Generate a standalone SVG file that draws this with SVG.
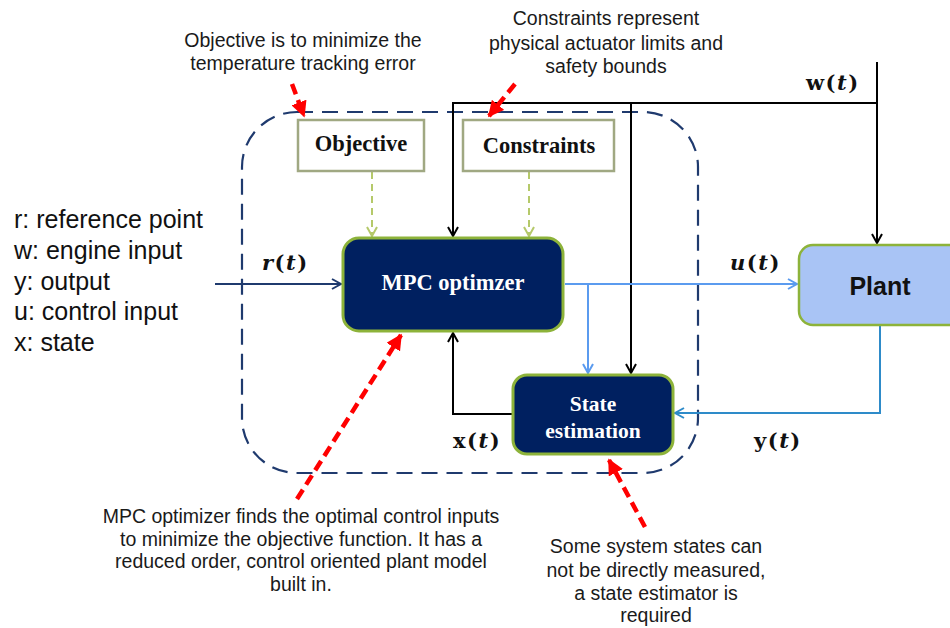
<svg xmlns="http://www.w3.org/2000/svg" width="950" height="628" viewBox="0 0 950 628">
<style>
.ann{font-family:"Liberation Sans",Arial,sans-serif;font-size:19.5px;fill:#1a1a1a;text-anchor:middle}
.leg{font-family:"Liberation Sans",Arial,sans-serif;font-size:25px;fill:#111}
.math{font-family:"DejaVu Serif","Liberation Serif",serif;font-size:21px;font-weight:bold;fill:#111;letter-spacing:1.5px}
.it{font-style:italic}
.wb{font-family:"Liberation Serif","Times New Roman",serif;font-weight:bold;fill:#fff;text-anchor:middle}
.bb{font-family:"Liberation Serif","Times New Roman",serif;font-weight:bold;fill:#111;text-anchor:middle;font-size:22.5px}
.nav{fill:#002060;stroke:#8DB33A;stroke-width:3}
.wbox{fill:#fff;stroke:#A0A882;stroke-width:2.5}
.red{stroke:#FF0000;stroke-width:4.5;stroke-dasharray:11 6;fill:none}
</style>
<defs>
<marker id="ak" viewBox="0 0 12 12" refX="10" refY="6" markerWidth="12" markerHeight="12" markerUnits="userSpaceOnUse" orient="auto"><path d="M1,1 L10,6 L1,11" fill="none" stroke="#000" stroke-width="2"/></marker>
<marker id="an" viewBox="0 0 12 12" refX="10" refY="6" markerWidth="12" markerHeight="12" markerUnits="userSpaceOnUse" orient="auto"><path d="M1,1 L10,6 L1,11" fill="none" stroke="#1F3A6E" stroke-width="2"/></marker>
<marker id="alb" viewBox="0 0 12 12" refX="10" refY="6" markerWidth="12" markerHeight="12" markerUnits="userSpaceOnUse" orient="auto"><path d="M1,1 L10,6 L1,11" fill="none" stroke="#5B9BEF" stroke-width="2"/></marker>
<marker id="adb" viewBox="0 0 12 12" refX="10" refY="6" markerWidth="12" markerHeight="12" markerUnits="userSpaceOnUse" orient="auto"><path d="M1,1 L10,6 L1,11" fill="none" stroke="#2E8BC9" stroke-width="2"/></marker>
<marker id="ag" viewBox="0 0 12 12" refX="10" refY="6" markerWidth="12" markerHeight="12" markerUnits="userSpaceOnUse" orient="auto"><path d="M1,1 L10,6 L1,11" fill="none" stroke="#B5C96A" stroke-width="2"/></marker>
<marker id="ar" viewBox="0 0 10 10" refX="9" refY="5" markerWidth="16" markerHeight="16" markerUnits="userSpaceOnUse" orient="auto"><path d="M0,0 L10,5 L0,10 Z" fill="#FF0000"/></marker>
</defs>

<g id="container">
<rect x="242" y="112" width="456" height="361" rx="55" fill="none" stroke="#1F3A6E" stroke-width="2.2" stroke-dasharray="16 9"/>
</g>

<g id="connectors" fill="none">
<path d="M877,62 V243" stroke="#000" stroke-width="2" marker-end="url(#ak)"/>
<path d="M877,103 H453 V236" stroke="#000" stroke-width="2" marker-end="url(#ak)"/>
<path d="M631,103 V373" stroke="#000" stroke-width="2" marker-end="url(#ak)"/>
<path d="M215,284 H341" stroke="#1F3A6E" stroke-width="2" marker-end="url(#an)"/>
<path d="M565,284 H797" stroke="#5B9BEF" stroke-width="2" marker-end="url(#alb)"/>
<path d="M588,284 V373" stroke="#5B9BEF" stroke-width="2" marker-end="url(#alb)"/>
<path d="M880,326 V413 H675" stroke="#2E8BC9" stroke-width="2" marker-end="url(#adb)"/>
<path d="M512,414 H453 V333" stroke="#000" stroke-width="2" marker-end="url(#ak)"/>
<path d="M372,172 V236" stroke="#B5C96A" stroke-width="2" stroke-dasharray="7 5" marker-end="url(#ag)"/>
<path d="M529,172 V236" stroke="#B5C96A" stroke-width="2" stroke-dasharray="7 5" marker-end="url(#ag)"/>
<path d="M292,84 L304,116" class="red" marker-end="url(#ar)"/>
<path d="M515,84 L489,116" class="red" marker-end="url(#ar)"/>
<path d="M297,499 L401,335" class="red" marker-end="url(#ar)"/>
<path d="M645,527 L609,460" class="red" marker-end="url(#ar)"/>
</g>

<g id="objective">
<rect x="298" y="120" width="126" height="51" class="wbox"/>
<text x="361" y="151" class="bb">Objective</text>
</g>
<g id="constraints">
<rect x="463" y="120" width="151" height="51" class="wbox"/>
<text x="539" y="153" class="bb">Constraints</text>
</g>
<g id="mpc">
<rect x="343" y="238" width="220" height="93" rx="16" class="nav"/>
<text x="453" y="290" class="wb" font-size="22.5">MPC optimzer</text>
</g>
<g id="state">
<rect x="513" y="375" width="160" height="79" rx="14" class="nav"/>
<text x="593" y="411" class="wb" font-size="21.5">State</text>
<text x="593" y="438" class="wb" font-size="21.5">estimation</text>
</g>
<g id="plant">
<rect x="799" y="245" width="180" height="80" rx="14" fill="#A9C4F5" stroke="#8DB33A" stroke-width="2.5"/>
<text x="880" y="295" font-family="'Liberation Sans',Arial,sans-serif" font-weight="bold" font-size="25" fill="#111" text-anchor="middle">Plant</text>
</g>

<g id="labels">
<text x="262" y="270" class="math"><tspan class="it">r</tspan>(<tspan class="it">t</tspan>)</text>
<text x="730" y="270" class="math"><tspan class="it">u</tspan>(<tspan class="it">t</tspan>)</text>
<text x="806" y="90" class="math">w(<tspan class="it">t</tspan>)</text>
<text x="453" y="448" class="math">x(<tspan class="it">t</tspan>)</text>
<text x="754" y="448" class="math">y(<tspan class="it">t</tspan>)</text>
</g>

<g id="legend">
<text x="14" y="228" class="leg">r: reference point</text>
<text x="14" y="259" class="leg">w: engine input</text>
<text x="14" y="290" class="leg">y: output</text>
<text x="14" y="320" class="leg">u: control input</text>
<text x="14" y="351" class="leg">x: state</text>
</g>

<g id="annotations">
<text x="303" y="47" class="ann">Objective is to minimize the</text>
<text x="303" y="70" class="ann">temperature tracking error</text>
<text x="606" y="25" class="ann">Constraints represent</text>
<text x="606" y="50" class="ann">physical actuator limits and</text>
<text x="606" y="73" class="ann">safety bounds</text>
<text x="301" y="523" class="ann">MPC optimizer finds the optimal control inputs</text>
<text x="301" y="546" class="ann">to minimize the objective function. It has a</text>
<text x="301" y="568" class="ann">reduced order, control oriented plant model</text>
<text x="301" y="591" class="ann">built in.</text>
<text x="656" y="553" class="ann">Some system states can</text>
<text x="656" y="577" class="ann">not be directly measured,</text>
<text x="656" y="600" class="ann">a state estimator is</text>
<text x="656" y="622" class="ann">required</text>
</g>
</svg>
